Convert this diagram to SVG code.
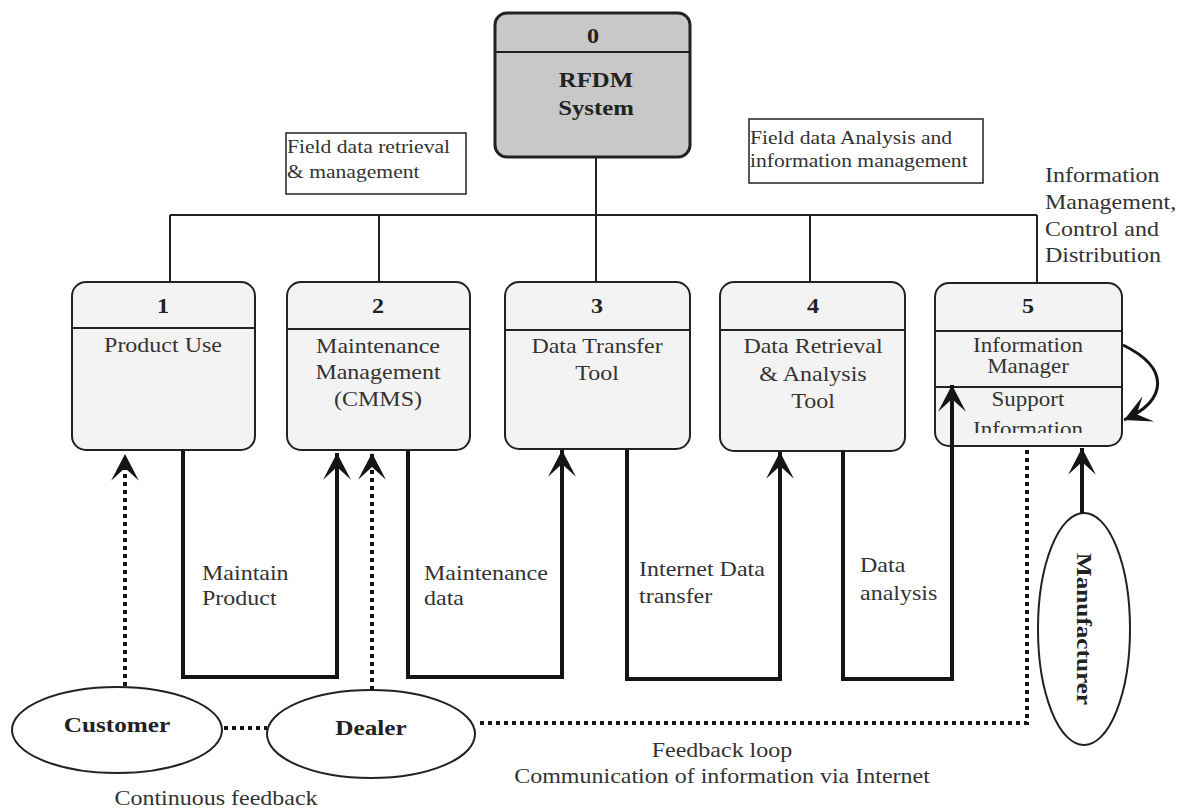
<svg xmlns="http://www.w3.org/2000/svg" width="1189" height="811" viewBox="0 0 1189 811">
  <style>
    .box { fill: #f3f3f3; stroke: #222; stroke-width: 2; }
    .root { fill: #c8c8c8; stroke: #222; stroke-width: 3; }
    .div { stroke: #222; stroke-width: 2; fill: none; }
    .bus { stroke: #222; stroke-width: 2; fill: none; }
    .flow { stroke: #151515; stroke-width: 4; fill: none; }
    .dot { stroke: #151515; stroke-width: 4; fill: none; stroke-dasharray: 4 4; }
    .ent { fill: #ffffff; stroke: #222; stroke-width: 2; }
    .note { fill: #ffffff; stroke: #222; stroke-width: 1.5; }
    .t { font-family: "Liberation Serif", "Times New Roman", serif; font-size: 20px; fill: #333; }
    .s { font-family: "Liberation Serif", "Times New Roman", serif; font-size: 18px; fill: #333; }
    .b { font-family: "Liberation Serif", "Times New Roman", serif; font-size: 21px; font-weight: bold; fill: #222; }
    .m { text-anchor: middle; }
  </style>
  <defs>
    <marker id="dart" markerUnits="userSpaceOnUse" markerWidth="30" markerHeight="30" viewBox="-26 -14 28 28" refX="0" refY="0" orient="auto">
      <path d="M0,0 L-25,-13 L-13,0 L-25,13 Z" fill="#151515"/>
    </marker>
    <clipPath id="clip5">
      <rect x="935" y="283" width="187" height="150"/>
    </clipPath>
  </defs>

  <rect width="1189" height="811" fill="#ffffff"/>

  <!-- tree lines linking the system to its processes -->
  <g id="tree">
    <path class="bus" d="M596,157 V282"/>
    <path class="bus" d="M170,215 H1037"/>
    <path class="bus" d="M170,215 V282"/>
    <path class="bus" d="M379,215 V282"/>
    <path class="bus" d="M810,215 V282"/>
    <path class="bus" d="M1037,215 V283"/>
  </g>

  <!-- level 0 -->
  <g id="node0">
    <rect class="root" x="495" y="13" width="195" height="144" rx="12"/>
    <path class="div" d="M495,52 H690"/>
    <text class="b m" transform="translate(593,43) scale(1.15,1)">0</text>
    <text class="b m" transform="translate(596,87) scale(1.18,1)">RFDM</text>
    <text class="b m" transform="translate(596,115) scale(1.18,1)">System</text>
  </g>

  <!-- annotations -->
  <g id="note-retrieval">
    <rect class="note" x="286" y="133" width="180" height="61"/>
    <text class="s" transform="translate(287,153) scale(1.2,1)">Field data retrieval</text>
    <text class="s" transform="translate(287,178) scale(1.2,1)">&amp; management</text>
  </g>
  <g id="note-analysis">
    <rect class="note" x="749" y="119" width="234" height="64"/>
    <text class="s" transform="translate(750,144) scale(1.2,1)">Field data Analysis and</text>
    <text class="s" transform="translate(750,167) scale(1.2,1)">information management</text>
  </g>
  <g id="note-distribution">
    <text class="t" transform="translate(1045,182) scale(1.2,1)">Information</text>
    <text class="t" transform="translate(1045,209) scale(1.2,1)">Management,</text>
    <text class="t" transform="translate(1045,236) scale(1.2,1)">Control and</text>
    <text class="t" transform="translate(1045,262) scale(1.2,1)">Distribution</text>
  </g>

  <!-- level 1 processes -->
  <g id="node1">
    <rect class="box" x="72" y="282" width="183" height="168" rx="14"/>
    <path class="div" d="M72,328 H255"/>
    <text class="b m" transform="translate(163,313) scale(1.15,1)">1</text>
    <text class="t m" transform="translate(163,352) scale(1.2,1)">Product Use</text>
  </g>
  <g id="node2">
    <rect class="box" x="287" y="282" width="183" height="168" rx="14"/>
    <path class="div" d="M287,329 H470"/>
    <text class="b m" transform="translate(378,313) scale(1.15,1)">2</text>
    <text class="t m" transform="translate(378,353) scale(1.2,1)">Maintenance</text>
    <text class="t m" transform="translate(378,379) scale(1.2,1)">Management</text>
    <text class="t m" transform="translate(378,406) scale(1.2,1)">(CMMS)</text>
  </g>
  <g id="node3">
    <rect class="box" x="505" y="282" width="185" height="167" rx="14"/>
    <path class="div" d="M505,330 H690"/>
    <text class="b m" transform="translate(597,313) scale(1.15,1)">3</text>
    <text class="t m" transform="translate(597,353) scale(1.2,1)">Data Transfer</text>
    <text class="t m" transform="translate(597,380) scale(1.2,1)">Tool</text>
  </g>
  <g id="node4">
    <rect class="box" x="720" y="282" width="185" height="169" rx="14"/>
    <path class="div" d="M720,330 H905"/>
    <text class="b m" transform="translate(813,313) scale(1.15,1)">4</text>
    <text class="t m" transform="translate(813,353) scale(1.2,1)">Data Retrieval</text>
    <text class="t m" transform="translate(813,381) scale(1.2,1)">&amp; Analysis</text>
    <text class="t m" transform="translate(813,408) scale(1.2,1)">Tool</text>
  </g>
  <g id="node5">
    <rect class="box" x="935" y="283" width="187" height="163" rx="14"/>
    <path class="div" d="M935,331 H1122"/>
    <path class="div" d="M935,387 H1122"/>
    <text class="b m" transform="translate(1028,313) scale(1.15,1)">5</text>
    <text class="t m" transform="translate(1028,352) scale(1.15,1)">Information</text>
    <text class="t m" transform="translate(1028,373) scale(1.15,1)">Manager</text>
    <text class="t m" transform="translate(1028,406) scale(1.15,1)">Support</text>
    <g clip-path="url(#clip5)">
      <text class="t m" transform="translate(1028,436) scale(1.15,1)">Information</text>
    </g>
  </g>

  <!-- external entities -->
  <g id="customer">
    <ellipse class="ent" cx="117" cy="730" rx="105" ry="43"/>
    <text class="b m" transform="translate(117,732) scale(1.2,1)">Customer</text>
  </g>
  <g id="dealer">
    <ellipse class="ent" cx="371" cy="734" rx="104" ry="44"/>
    <text class="b m" transform="translate(371,735) scale(1.2,1)">Dealer</text>
  </g>
  <g id="manufacturer">
    <ellipse class="ent" cx="1084" cy="629" rx="46" ry="116"/>
    <text class="b m" transform="translate(1077,629) rotate(90) scale(1.2,1)">Manufacturer</text>
  </g>

  <!-- flows between processes and entities -->
  <g id="connectors">
    <path class="dot" d="M125,686 V454" marker-end="url(#dart)"/>
    <path class="flow" d="M183,450 V677 H337 V453" marker-end="url(#dart)"/>
    <path class="dot" d="M372,690 V453" marker-end="url(#dart)"/>
    <path class="flow" d="M408,450 V677 H562 V450" marker-end="url(#dart)"/>
    <path class="flow" d="M627,449 V679 H780 V452" marker-end="url(#dart)"/>
    <path class="flow" d="M843,451 V679 H952 V385" marker-end="url(#dart)"/>
    <path class="flow" d="M1082,513 V448" marker-end="url(#dart)"/>
    <path class="flow" style="stroke-width:3" d="M1123,345 C1170,368 1168,400 1124,420" marker-end="url(#dart)"/>
    <path class="dot" d="M1027,450 V723 H477"/>
    <path class="dot" d="M224,728 H267"/>
  </g>

  <!-- flow labels -->
  <g id="labels">
    <text class="t" transform="translate(202,580) scale(1.2,1)">Maintain</text>
    <text class="t" transform="translate(202,605) scale(1.2,1)">Product</text>
    <text class="t" transform="translate(424,580) scale(1.2,1)">Maintenance</text>
    <text class="t" transform="translate(424,605) scale(1.2,1)">data</text>
    <text class="t" transform="translate(639,576) scale(1.2,1)">Internet Data</text>
    <text class="t" transform="translate(639,603) scale(1.2,1)">transfer</text>
    <text class="t" transform="translate(860,572) scale(1.2,1)">Data</text>
    <text class="t" transform="translate(860,600) scale(1.2,1)">analysis</text>
    <text class="t m" transform="translate(722,757) scale(1.2,1)">Feedback loop</text>
    <text class="t m" transform="translate(722,783) scale(1.2,1)">Communication of information via Internet</text>
    <text class="t m" transform="translate(216,805) scale(1.2,1)">Continuous feedback</text>
  </g>
</svg>
